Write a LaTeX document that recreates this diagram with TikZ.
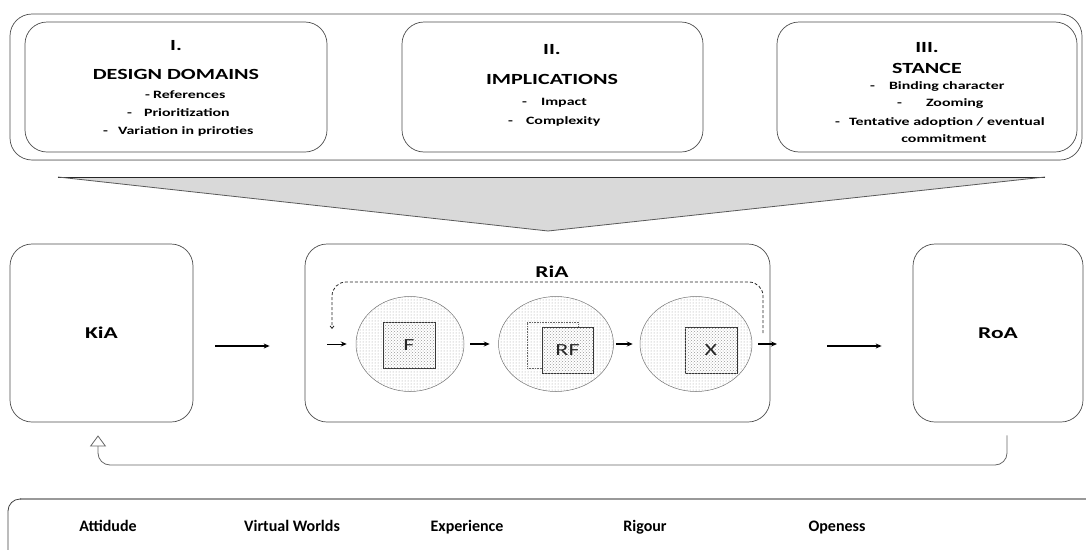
\documentclass[tikz,border=0pt]{standalone}
\usepackage{fontspec}
\setmainfont{Carlito}[FakeStretch=1.42]
\newfontfamily\plainfont{Carlito}
\usetikzlibrary{arrows.meta,shapes.geometric,patterns}
\begin{document}
\begin{tikzpicture}[x=1pt,y=-1pt,
  panel/.style={draw=black!70, line width=0.7pt, rounded corners=22pt, inner sep=0pt},
  ttl/.style={inner sep=0pt, font=\fontsize{15.5}{18}\selectfont\bfseries},
  itm/.style={inner sep=0pt, font=\fontsize{11.2}{13}\selectfont\bfseries},
  big/.style={font=\fontsize{16.5}{19}\selectfont\bfseries},
  lbl/.style={inner sep=0pt, anchor=base, font=\plainfont\fontsize{16}{19}\selectfont\bfseries},
  circ/.style={ellipse, draw=black!55, line width=0.5pt, inner sep=0pt, pattern=dots, pattern color=black!40},
  sq/.style={draw=black!80, line width=0.8pt, inner sep=0pt, minimum width=52pt, minimum height=46pt,
    fill=white, postaction={pattern=crosshatch dots, pattern color=black!40},
    font=\fontsize{17}{20}\selectfont, text=black!85},
  arr/.style={-{Stealth[length=6pt,width=5pt]}, line width=1.2pt, black}
]
\useasboundingbox (0,0) rectangle (1086,549);

% top panel
\node[panel, minimum width=1072pt, minimum height=146pt] (top) at (546,87) {};
\draw[black!30, line width=1.6pt] ([xshift=22pt]top.south west) -- ([xshift=-22pt]top.south east);
\node[panel, minimum width=302pt, minimum height=130pt] (d1) at (176,87) {};
\node[panel, minimum width=301pt, minimum height=130pt] (d2) at (552.5,87) {};
\node[panel, minimum width=300pt, minimum height=130pt] (d3) at (927,87) {};

\node[ttl] (t1a) at (176,46) {I.};
\node[ttl] (t1b) at (176,74) {DESIGN DOMAINS};
\node[itm, anchor=west] (t1c) at (145,95) {-\hspace{3pt}References};
\node[itm, anchor=west] (t1d) at (127,113) {-\hspace{12pt}Prioritization};
\node[itm, anchor=west] (t1e) at (103,131) {-\hspace{10pt}Variation in priroties};

\node[ttl] (t2a) at (552,50) {II.};
\node[ttl] (t2b) at (552,79) {IMPLICATIONS};
\node[itm, anchor=west] (t2c) at (522,103) {-\hspace{14pt}Impact};
\node[itm, anchor=west] (t2d) at (508,121) {-\hspace{13pt}Complexity};

\node[ttl] (t3a) at (927,48) {III.};
\node[ttl] (t3b) at (927,68) {STANCE};
\node[itm, anchor=west] (t3c) at (870,87) {-\hspace{14pt}Binding character};
\node[itm, anchor=west] (t3d) at (897,104) {-\hspace{24pt}Zooming};
\node[itm, anchor=west] (t3e) at (835,122) {-\hspace{9pt}Tentative adoption / eventual};
\node[itm] (t3f) at (944,139) {commitment};

% funnel
\fill[black!15] (58,177) -- (1045,177) -- (548,231) -- cycle;
\draw[black!85, line width=0.8pt] (58,177) -- (1045,177);
\draw[black!65, line width=0.8pt] (58,177) -- (548,231) -- (1045,177);

% middle row
\node[panel, big, minimum width=183pt, minimum height=178pt] (kia) at (101.5,333) {KiA};
\node[panel, minimum width=465pt, minimum height=178pt] (ria) at (537.5,333) {};
\node[big, inner sep=0pt] (rialbl) at (552,272) {RiA};
\node[panel, big, minimum width=170pt, minimum height=178pt] (roa) at (998,333) {RoA};

\node[circ, minimum width=108pt, minimum height=95pt] (cf) at (410,344) {};
\node[circ, minimum width=115pt, minimum height=95pt] (crf) at (556,344) {};
\node[circ, minimum width=112pt, minimum height=95pt] (cx) at (696,344) {};

\node[draw=black!60, densely dotted, line width=0.6pt, minimum width=51pt, minimum height=46pt, inner sep=0pt] (rfback) at (552.5,345) {};
\node[sq] (sf) at (409,345) {F};
\node[sq, minimum width=51pt] (srf) at (567.5,350) {RF};
\node[sq] (sx) at (711,350) {X};

\coordinate (inS) at (327,344);
\coordinate (outE) at (777,344);
\draw[arr, line width=1pt, shorten >=9pt] (inS) -- (cf.west);
\draw[arr, shorten <=6pt, shorten >=8.5pt] (cf.east) -- (crf.west);
\draw[arr, shorten <=2pt, shorten >=7pt] (crf.east) -- (cx.west);
\draw[arr, shorten <=6pt] (cx.east) -- (outE);

\coordinate (lpR) at (763,333);
\coordinate (lpL) at (332,329);
\draw[black!85, line width=0.8pt, dash pattern=on 3pt off 2pt, rounded corners=14pt,
  -{Straight Barb[length=2.5pt,width=4pt]}] (lpR) -- (763,282) -- (332,282) -- (lpL);

\draw[arr, shorten <=22pt, shorten >=35pt] ([yshift=-13pt]kia.east) -- ([yshift=-13pt]ria.west);
\draw[arr, shorten <=57pt, shorten >=31pt] ([yshift=-13pt]ria.east) -- ([yshift=-13pt]roa.west);

% feedback
\draw[black!60, line width=0.8pt, rounded corners=12pt, -{Triangle[open, length=11pt, width=16pt]}]
  ([xshift=9pt,yshift=-13pt]roa.south) -- (1007,465) -- (98,465) -- ([xshift=-3.5pt,yshift=-13pt]kia.south);

% bottom band
\draw[black!40, line width=1.4pt] (1090,499) -- (20,499);
\draw[black!75, line width=0.8pt, rounded corners=12pt] (21,499) -- (8,499) -- (8,560);
\node[lbl] (l1) at (108,531) {Attidude};
\node[lbl] (l2) at (292,531) {Virtual Worlds};
\node[lbl] (l3) at (467,531) {Experience};
\node[lbl] (l4) at (645,531) {Rigour};
\node[lbl] (l5) at (837,531) {Openess};
\end{tikzpicture}
\end{document}
